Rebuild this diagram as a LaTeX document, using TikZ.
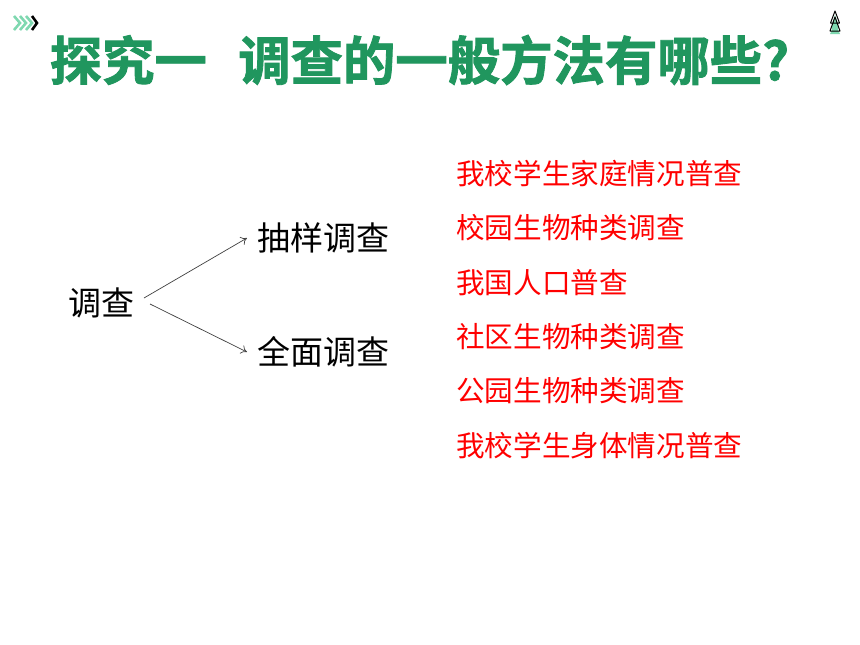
\documentclass[tikz,border=0pt]{standalone}
\usepackage{fontspec}
\newfontfamily\cjk{Noto Sans CJK SC}
\newfontfamily\cjkb[FakeBold=1.6]{Noto Sans CJK SC Bold}
\definecolor{titlegreen}{HTML}{20965E}
\definecolor{mint}{HTML}{7FD8B0}
\usetikzlibrary{arrows.meta}
\tikzset{
  x=1pt,y=-1pt,
  titletext/.style={anchor=west,inner sep=0pt,text=titlegreen,font=\cjkb\fontsize{52.4}{52.4}\selectfont},
  blacklabel/.style={anchor=west,inner sep=0pt,text=black,font=\cjk\fontsize{33}{33}\selectfont},
  redlabel/.style={anchor=west,inner sep=0pt,text=red,font=\cjk\fontsize{28.6}{28.6}\selectfont},
  link/.style={draw=black!75,line width=0.7pt,-{To[length=6pt,width=9pt]}},
  chev/.style={line width=2.6pt,draw=#1},
}
\begin{document}
\begin{tikzpicture}
\useasboundingbox (0,0) rectangle (860,645);
\fill[white] (0,0) rectangle (860,645);
% top-left chevrons
\foreach \xx in {14,20,26}{\draw[chev=mint] (\xx,16)--(\xx+6,23)--(\xx,30);}
\draw[chev=black] (32,16)--(37,23)--(32,30);
% top-right tree mark
\fill[mint] (835,15)--(832,24)--(832,30)--(830,34)--(840,34)--(838,30)--(838,24)--cycle;
\draw[black,line width=1pt,line join=round] (835,11)--(830.5,23)--(839.5,23)--cycle (835,17)--(830,31)--(840,31)--cycle;
% title
\node[titletext] (t1) at (49.5,60) {探究一};
\node[titletext] (t2) at (238,60) {调查的一般方法有哪些?};
% tree
\node[blacklabel] (root) at (68,303) {调查};
\node[blacklabel] (a) at (257,238) {抽样调查};
\node[blacklabel] (b) at (257,352) {全面调查};
\coordinate (ra) at (144,298);
\coordinate (rb) at (150,304);
\coordinate (ae) at (247,238);
\coordinate (be) at (247,352);
\draw[link] (ra) -- (ae);
\draw[link] (rb) -- (be);
% list
\node[redlabel] (l1) at (456,173.5) {我校学生家庭情况普查};
\node[redlabel] (l2) at (456,227.5) {校园生物种类调查};
\node[redlabel] (l3) at (456,282.5) {我国人口普查};
\node[redlabel] (l4) at (456,336.5) {社区生物种类调查};
\node[redlabel] (l5) at (456,390.5) {公园生物种类调查};
\node[redlabel] (l6) at (456,445.5) {我校学生身体情况普查};
\end{tikzpicture}
\end{document}
